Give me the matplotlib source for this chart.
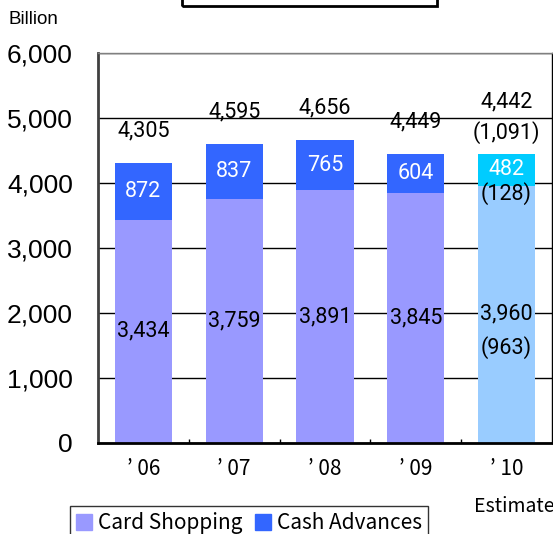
import matplotlib
matplotlib.use("Agg")
import matplotlib.pyplot as plt
from matplotlib.patches import Rectangle, Patch
import numpy as np

# Data
years = ["\u2019 06", "\u2019 07", "\u2019 08", "\u2019 09", "\u2019 10"]
card_shopping = [3434, 3759, 3891, 3845, 3960]
cash_advances = [872, 837, 765, 604, 482]
totals = [4305, 4595, 4656, 4449, 4442]
# '10 year-on-year change (estimate)
change_total = "(1,091)"
change_cash = "(128)"
change_card = "(963)"

card_colors = ["#9999ff"] * 4 + ["#99ccff"]
cash_colors = ["#3366ff"] * 4 + ["#00ccff"]

JP = ["Noto Sans CJK JP", "DejaVu Sans"]
NUM = "Roboto"

fig = plt.figure(figsize=(5.53, 5.34), dpi=100)
ax = fig.add_axes([98 / 553, 91 / 534, 454 / 553, 390 / 534])

x = np.arange(len(years))
w = 0.63
ax.bar(x, card_shopping, w, color=card_colors, zorder=2)
ax.bar(x, cash_advances, w, bottom=card_shopping, color=cash_colors, zorder=2)

ax.set_xlim(-0.5, len(years) - 0.5)
ax.set_ylim(0, 6000)
ax.set_yticks(range(0, 6001, 1000))
ax.set_yticklabels([f"{v:,}" for v in range(0, 6001, 1000)],
                   fontfamily="Liberation Sans", fontsize=19)
ax.grid(axis="y", color="black", linewidth=1)
ax.set_axisbelow(True)
ax.tick_params(axis="y", length=0, pad=18)

ax.set_xticks(x)
ax.set_xticklabels(years, fontfamily=JP, fontsize=15)
ax.set_xticks(np.arange(0.5, len(years) - 1, 1), minor=True)
ax.tick_params(axis="x", which="major", length=0, pad=11)
ax.tick_params(axis="x", which="minor", direction="in", length=3, width=1)

ax.spines["left"].set_color("#404040")
ax.spines["left"].set_linewidth(2)
ax.spines["bottom"].set_linewidth(2)
ax.spines["top"].set_color("#808080")
ax.spines["top"].set_linewidth(1)
ax.spines["right"].set_linewidth(1)

# labels
for i in range(len(years)):
    ax.text(x[i], card_shopping[i] / 2, f"{card_shopping[i]:,}",
            ha="center", va="center", fontfamily=NUM, fontsize=15.5, zorder=3)
    cash_mid = card_shopping[i] + cash_advances[i] / 2
    ax.text(x[i], cash_mid, f"{cash_advances[i]:,}", color="white",
            ha="center", va="center", fontfamily=NUM, fontsize=15.5, zorder=3)
    if i < len(years) - 1:
        ax.annotate(f"{totals[i]:,}", (x[i], totals[i]), xytext=(0, 23),
                    textcoords="offset points", ha="center", va="center",
                    fontfamily=NUM, fontsize=15.5)
    else:
        ax.annotate(change_cash, (x[i], cash_mid), xytext=(0, -17),
                    textcoords="offset points", ha="center", va="center",
                    fontfamily=NUM, fontsize=15.5, zorder=3)
        ax.annotate(change_card, (x[i], card_shopping[i] / 2), xytext=(0, -24),
                    textcoords="offset points", ha="center", va="center",
                    fontfamily=NUM, fontsize=15.5, zorder=3)
        ax.annotate(f"{totals[i]:,}", (x[i], totals[i]), xytext=(0, 38),
                    textcoords="offset points", ha="center", va="center",
                    fontfamily=NUM, fontsize=15.5)
        ax.annotate(change_total, (x[i], totals[i]), xytext=(0, 16),
                    textcoords="offset points", ha="center", va="center",
                    fontfamily=NUM, fontsize=15.5)

fig.text(8 / 553, 1 - 20 / 534, "Billion", fontfamily="Liberation Sans",
         fontsize=13.5, ha="left", va="center")
fig.text(474 / 553, 1 - 506 / 534, "Estimate", fontfamily=JP,
         fontsize=14, ha="left", va="center")

# title box cut off at top
fig.patches.append(Rectangle((182 / 553, 1 - 6 / 534), 255 / 553, 0.1,
                             transform=fig.transFigure, fill=False,
                             edgecolor="black", linewidth=2))

handles = [Patch(color="#9999ff", label="Card Shopping"),
           Patch(color="#3366ff", label="Cash Advances")]
leg = fig.legend(handles=handles, loc="upper left",
                 bbox_to_anchor=(70 / 553, 1 - 506 / 534), ncol=2,
                 prop={"family": JP, "size": 15}, frameon=True, fancybox=False,
                 edgecolor="black", borderaxespad=0, handlelength=0.75,
                 handleheight=0.75, handletextpad=0.3, columnspacing=0.6,
                 borderpad=0.3)
leg.get_frame().set_linewidth(1)

fig.savefig("out.png", dpi=100)
